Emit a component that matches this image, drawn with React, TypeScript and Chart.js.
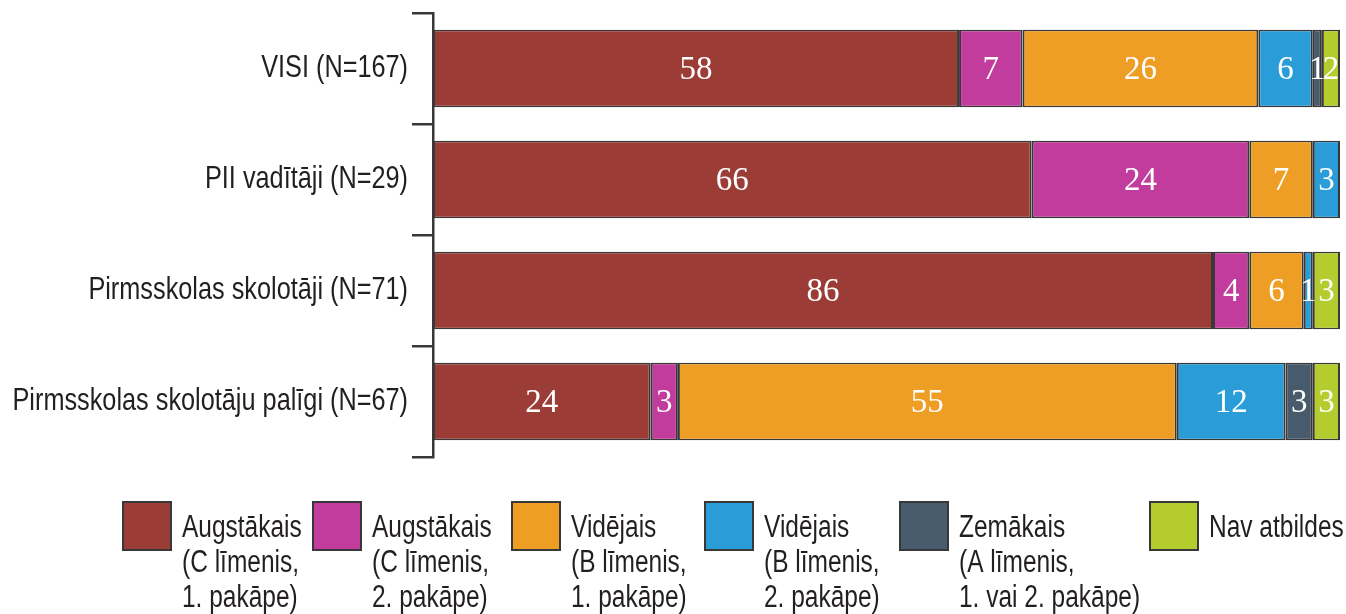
import React, { useEffect, useRef } from "react";
import { Chart, registerables } from "chart.js";

Chart.register(...registerables);

const categories = [
  "VISI (N=167)",
  "PII vadītāji (N=29)",
  "Pirmsskolas skolotāji (N=71)",
  "Pirmsskolas skolotāju palīgi (N=67)",
];

const augstakaisC1 = [58, 66, 86, 24];
const augstakaisC2 = [7, 24, 4, 3];
const videjaisB1 = [26, 7, 6, 55];
const videjaisB2 = [6, 3, 1, 12];
const zemakais = [1, 0, 0, 3];
const navAtbildes = [2, 0, 3, 3];

const seriesLabels = [
  ["Augstākais", "(C līmenis,", "1. pakāpe)"],
  ["Augstākais", "(C līmenis,", "2. pakāpe)"],
  ["Vidējais", "(B līmenis,", "1. pakāpe)"],
  ["Vidējais", "(B līmenis,", "2. pakāpe)"],
  ["Zemākais", "(A līmenis,", "1. vai 2. pakāpe)"],
  ["Nav atbildes"],
];

const seriesColors = ["#9B3D36", "#C13C9C", "#EF9E25", "#2A9DD9", "#485B6C", "#B5CC2E"];

const SANS = '"Liberation Sans", Arial, sans-serif';
const SERIF = '"Liberation Serif", "DejaVu Serif", serif';
const EDGE = "#383838";
const TEXT = "#231F20";
const NARROW_K = 0.79;

const valueLabelPlugin = {
  id: "valueLabels",
  afterDatasetsDraw(chart: any) {
    const ctx = chart.ctx;
    ctx.save();
    ctx.font = `33px ${SERIF}`;
    ctx.fillStyle = "#ffffff";
    ctx.textAlign = "center";
    ctx.textBaseline = "middle";
    chart.data.datasets.forEach((ds: any, di: number) => {
      const meta = chart.getDatasetMeta(di);
      meta.data.forEach((el: any, i: number) => {
        const v = ds.data[i];
        if (!v) return;
        const p = el.getCenterPoint();
        ctx.fillText(String(v), p.x, p.y + 2);
      });
    });
    ctx.restore();
  },
};

const narrowYLabelsPlugin = {
  id: "narrowYLabels",
  afterDraw(chart: any) {
    const ctx = chart.ctx;
    const y = chart.scales.y;
    const right = chart.chartArea.left - 25;
    ctx.save();
    ctx.font = `32px ${SANS}`;
    ctx.fillStyle = TEXT;
    ctx.textAlign = "right";
    ctx.textBaseline = "middle";
    chart.data.labels.forEach((lab: string, i: number) => {
      const py = y.getPixelForValue(i);
      ctx.save();
      ctx.translate(right, py);
      ctx.scale(NARROW_K, 1);
      ctx.fillText(lab, 0, 0);
      ctx.restore();
    });
    ctx.restore();
  },
};

const sketchLegendPlugin = {
  id: "sketchLegend",
  afterDraw(chart: any) {
    const ctx = chart.ctx;
    const boxXs = [123, 313, 512, 705, 900, 1150];
    ctx.save();
    ctx.font = `31px ${SANS}`;
    ctx.textAlign = "left";
    ctx.textBaseline = "alphabetic";
    const boxTop = 502;
    const boxSize = 48;
    const firstBaseline = 537;
    const lineH = 35;
    chart.data.datasets.forEach((ds: any, di: number) => {
      const x = boxXs[di];
      const lines: string[] = seriesLabels[di];
      ctx.fillStyle = seriesColors[di];
      ctx.fillRect(x, boxTop, boxSize, boxSize);
      ctx.strokeStyle = EDGE;
      ctx.lineWidth = 2;
      ctx.strokeRect(x, boxTop, boxSize, boxSize);
      const tx = x + 59;
      ctx.fillStyle = TEXT;
      lines.forEach((ln, li) => {
        ctx.save();
        ctx.translate(tx, firstBaseline + li * lineH);
        ctx.scale(NARROW_K, 1);
        ctx.fillText(ln, 0, 0);
        ctx.restore();
      });
    });
    ctx.restore();
  },
};

export default function App() {
  const canvasRef = useRef<HTMLCanvasElement | null>(null);

  useEffect(() => {
    if (!canvasRef.current) return;
    const series = [augstakaisC1, augstakaisC2, videjaisB1, videjaisB2, zemakais, navAtbildes];
    const chart = new Chart(canvasRef.current, {
      type: "bar",
      data: {
        labels: categories,
        datasets: series.map((d, i) => ({
          label: seriesLabels[i].join(" "),
          data: d,
          backgroundColor: seriesColors[i],
          borderColor: EDGE,
          borderWidth: (c: any) =>
            c.raw ? { top: 1.5, bottom: 1.5, left: 2, right: 2 } : 0,
          borderSkipped: false,
          barPercentage: 0.7,
          categoryPercentage: 1,
        })),
      },
      options: {
        indexAxis: "y",
        animation: false,
        responsive: true,
        maintainAspectRatio: false,
        layout: { padding: { top: 13, right: 6, bottom: 157, left: 0 } },
        plugins: {
          legend: { display: false },
          tooltip: { enabled: false },
        },
        scales: {
          x: {
            stacked: true,
            min: 0,
            max: 100,
            display: false,
          },
          y: {
            stacked: true,
            afterFit: (scale: any) => {
              scale.width = 433;
            },
            grid: {
              offset: true,
              drawOnChartArea: false,
              drawTicks: true,
              tickLength: 21,
              color: EDGE,
              lineWidth: 2.5,
            },
            border: { display: true, color: EDGE, width: 2.5 },
            ticks: { display: false },
          },
        },
      },
      plugins: [valueLabelPlugin, narrowYLabelsPlugin, sketchLegendPlugin],
    } as any);
    return () => chart.destroy();
  }, []);

  return (
    <div
      style={{
        position: "fixed",
        left: 0,
        top: 0,
        width: 1346,
        height: 614,
        background: "#ffffff",
      }}
    >
      <canvas ref={canvasRef} />
    </div>
  );
}
